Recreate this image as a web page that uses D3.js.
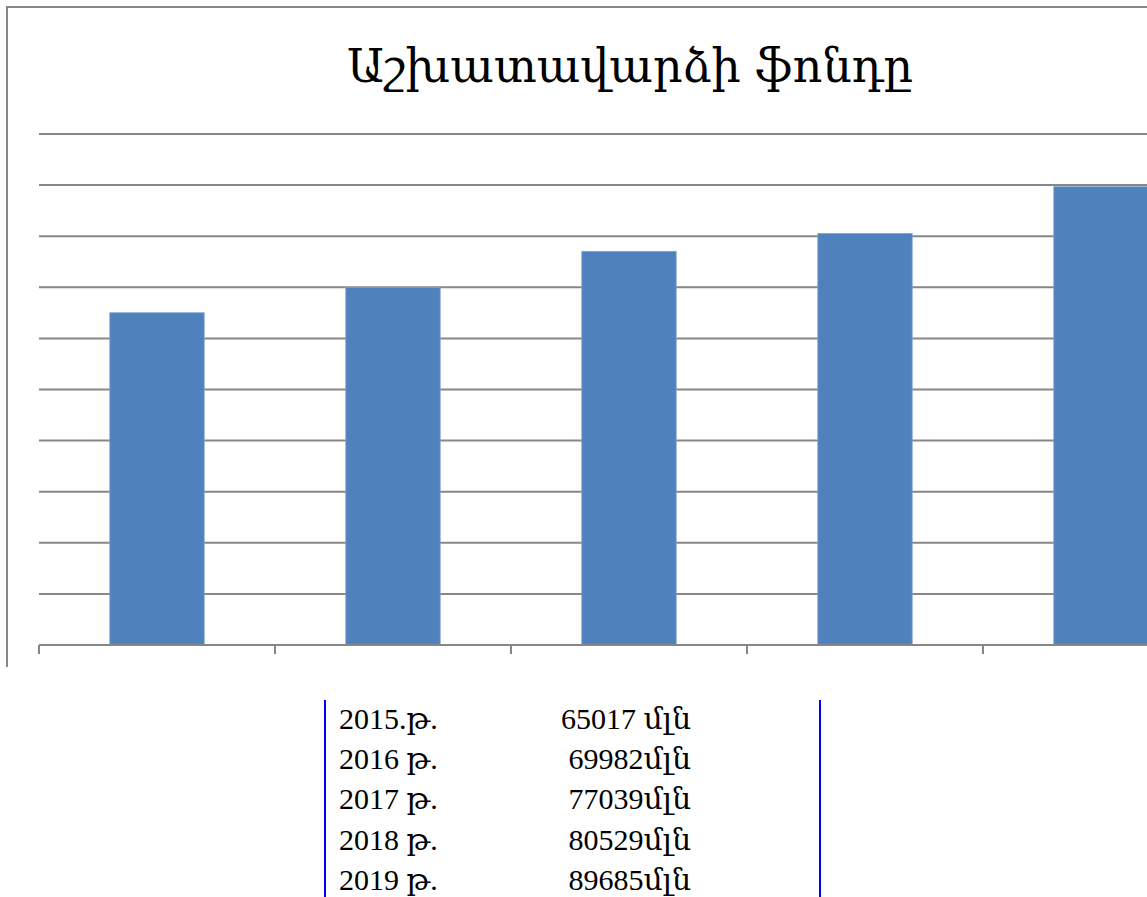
<!DOCTYPE html>
<html>
<head>
<meta charset="utf-8">
<script src="https://cdn.jsdelivr.net/npm/d3@7"></script>
<style>
  body { margin: 0; background: #fff; }
  svg { display: block; }
  .title { font-family: "DejaVu Serif", "Liberation Serif", serif; font-size: 46px; fill: #000; }
  .row { font-family: "Liberation Serif", "DejaVu Serif", serif; font-size: 30px; fill: #000; }
</style>
</head>
<body>
<svg id="chart" width="1147" height="897"></svg>
<script>
const title = 'Աշխատավարձի ֆոնդը';
const years = ['2015', '2016', '2017', '2018', '2019'];
const values = [65017, 69982, 77039, 80529, 89685];
const yearLabels = ['2015.թ.', '2016 թ.', '2017 թ.', '2018 թ.', '2019 թ.'];
const valueSuffix = [' մլն', 'մլն', 'մլն', 'մլն', 'մլն'];
const yTicks = d3.range(0, 100001, 10000);

const svg = d3.select('#chart');

const params = {
    frame: { left: 7, top: 7, bottom: 667 },
    plot: { left: 39, right: 1219, top: 134, bottom: 645 },
    gridColor: '#878787',
    barColor: '#4f81bd'
};

// chart frame (only left and top edges are in view)
svg.append('path')
    .attr('d', `M${params.frame.left},${params.frame.bottom}V${params.frame.top}H1147`)
    .attr('fill', 'none')
    .attr('stroke', params.gridColor)
    .attr('stroke-width', 2);

svg.append('text')
    .attr('class', 'title')
    .attr('x', 630)
    .attr('y', 82)
    .attr('text-anchor', 'middle')
    .text(title);

const x = d3.scaleBand()
    .domain(years)
    .range([params.plot.left, params.plot.right])
    .paddingInner(0.6)
    .paddingOuter(0.3);

const y = d3.scaleLinear()
    .domain([0, 100000])
    .range([params.plot.bottom, params.plot.top]);

// gridlines
svg.append('g')
    .selectAll('line')
    .data(yTicks.slice(1))
    .enter()
    .append('line')
    .attr('x1', params.plot.left)
    .attr('x2', params.plot.right)
    .attr('y1', d => y(d))
    .attr('y2', d => y(d))
    .attr('stroke', params.gridColor)
    .attr('stroke-width', 2);

// bars
svg.append('g')
    .selectAll('rect')
    .data(values)
    .enter()
    .append('rect')
    .attr('x', (d, i) => x(years[i]))
    .attr('width', x.bandwidth())
    .attr('y', d => y(d))
    .attr('height', d => y(0) - y(d))
    .attr('fill', params.barColor)
    .attr('stroke', '#7fa3d0')
    .attr('stroke-width', 0.8);

// category axis: baseline + ticks between bands, no labels
const step = x.step();
const axisTicks = d3.range(years.length + 1).map(i => params.plot.left + i * step);

svg.append('line')
    .attr('x1', params.plot.left)
    .attr('x2', params.plot.right)
    .attr('y1', y(0))
    .attr('y2', y(0))
    .attr('stroke', params.gridColor)
    .attr('stroke-width', 2);

svg.append('g')
    .selectAll('line')
    .data(axisTicks)
    .enter()
    .append('line')
    .attr('x1', d => d)
    .attr('x2', d => d)
    .attr('y1', y(0))
    .attr('y2', y(0) + 9)
    .attr('stroke', params.gridColor)
    .attr('stroke-width', 2);

// table below the chart
const rowY = d3.scaleLinear().domain([0, 1]).range([729, 769.2]);

svg.selectAll('line.table-edge')
    .data([325, 820])
    .enter()
    .append('line')
    .attr('class', 'table-edge')
    .attr('x1', d => d)
    .attr('x2', d => d)
    .attr('y1', 700)
    .attr('y2', 897)
    .attr('stroke', '#0000ff')
    .attr('stroke-width', 2);

const rows = svg.append('g')
    .selectAll('g')
    .data(years)
    .enter()
    .append('g');

rows.append('text')
    .attr('class', 'row')
    .attr('x', 339)
    .attr('y', (d, i) => rowY(i))
    .text((d, i) => yearLabels[i]);

rows.append('text')
    .attr('class', 'row')
    .attr('x', 691)
    .attr('y', (d, i) => rowY(i))
    .attr('text-anchor', 'end')
    .text((d, i) => values[i] + valueSuffix[i]);
</script>
</body>
</html>
